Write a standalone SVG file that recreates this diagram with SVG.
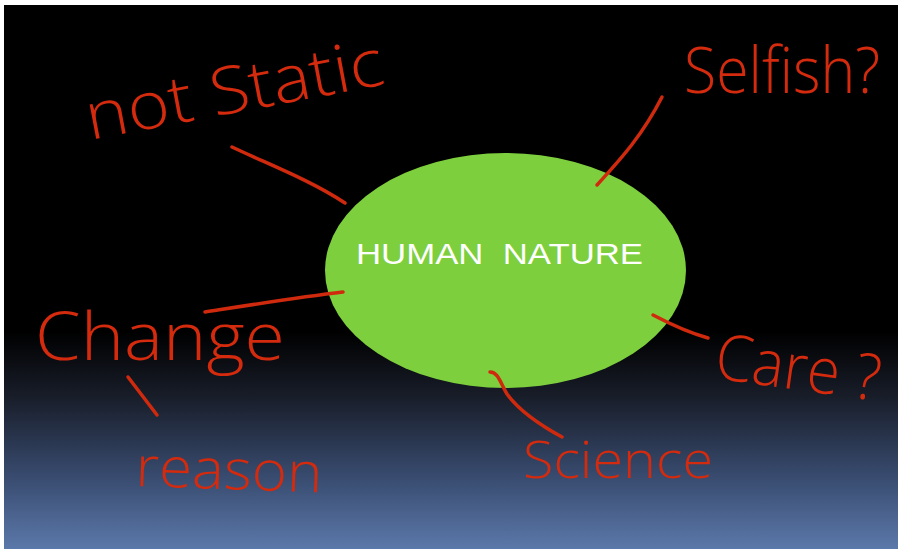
<svg xmlns="http://www.w3.org/2000/svg" width="898" height="549" viewBox="0 0 898 549">
  <defs>
    <linearGradient id="bg" x1="0" y1="5" x2="0" y2="549" gradientUnits="userSpaceOnUse">
      <stop offset="0" stop-color="#000000"/>
      <stop offset="0.6" stop-color="#000000"/>
      <stop offset="0.72" stop-color="#181d29"/>
      <stop offset="0.87" stop-color="#394c70"/>
      <stop offset="1" stop-color="#5b78aa"/>
    </linearGradient>
  </defs>
  <style>
    .hand { font-family: "Open Sans", "Liberation Sans", sans-serif; font-weight: 300; fill: #d42a0e; }
    .ink { fill: none; stroke: #d02a0e; stroke-width: 3.5; stroke-linecap: round; stroke-linejoin: round; }
    .title { font-family: "Liberation Sans", Arial, sans-serif; font-size: 30px; fill: #ffffff; }
  </style>
  <rect x="0" y="0" width="898" height="549" fill="#ffffff"/>
  <rect x="4" y="5" width="894" height="544" fill="url(#bg)"/>

  <g id="human-nature">
    <ellipse cx="505.5" cy="270.5" rx="180.5" ry="117.5" fill="#7dcf3d"/>
    <text class="title" x="356" y="264" textLength="287" lengthAdjust="spacingAndGlyphs" xml:space="preserve">HUMAN  NATURE</text>
  </g>

  <g id="connectors">
    <path class="ink" d="M232 147 C270 165 310 180 345 203"/>
    <path class="ink" d="M597 185 C615 165 640 140 662 97"/>
    <path class="ink" d="M343 292 C300 297 250 305 205 312"/>
    <path class="ink" d="M653 315 C672 325 690 333 708 338"/>
    <path class="ink" d="M490 372 C498 372 500 382 507 394 C520 412 540 425 562 437"/>
    <path class="ink" d="M128 377 L157 415"/>
  </g>

  <g id="not-static">
    <text class="hand" x="90" y="140" font-size="66" textLength="302" lengthAdjust="spacingAndGlyphs" transform="rotate(-10.7 90 140)">not Static</text>
  </g>
  <g id="selfish">
    <text class="hand" x="684" y="93" font-size="64" textLength="196" lengthAdjust="spacingAndGlyphs">Selfish?</text>
  </g>
  <g id="change">
    <text class="hand" x="35" y="360" font-size="66" textLength="250" lengthAdjust="spacingAndGlyphs">Change</text>
  </g>
  <g id="reason">
    <text class="hand" x="135" y="486" font-size="56" textLength="187" lengthAdjust="spacingAndGlyphs" transform="rotate(2 135 486)">reason</text>
  </g>
  <g id="science">
    <text class="hand" x="523" y="478" font-size="52" textLength="190" lengthAdjust="spacingAndGlyphs">Science</text>
  </g>
  <g id="care">
    <text class="hand" x="713" y="378" font-size="64" textLength="166" lengthAdjust="spacingAndGlyphs" transform="rotate(8 713 378)">Care ?</text>
  </g>
</svg>
